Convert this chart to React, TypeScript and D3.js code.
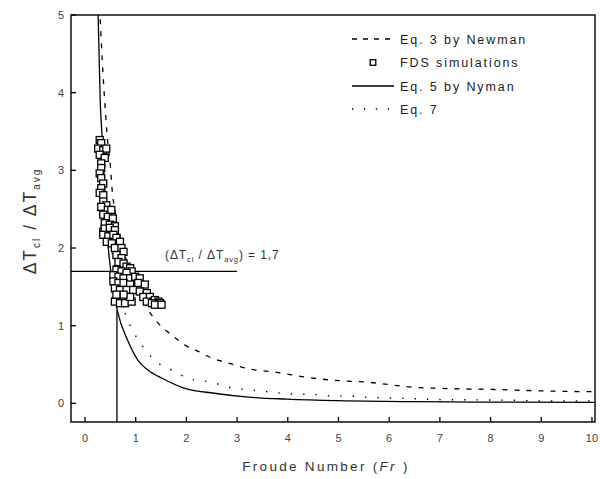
import React, { useEffect, useRef } from 'react';
import * as d3 from 'd3';

const W = 600;
const H = 479;

const xTicks = [0, 1, 2, 3, 4, 5, 6, 7, 8, 9, 10];
const yTicks = [0, 1, 2, 3, 4, 5];

// Eq. 3 by Newman (dashed)
const newmanFr = [0.29, 0.33, 0.36, 0.41, 0.43, 0.51, 0.53, 0.6, 0.75, 1.0, 1.2, 1.46, 1.73, 2.0, 2.28, 2.51, 2.75, 3.26, 3.78, 4.32, 4.86, 5.61, 6.43, 7.18, 8.0, 9.02, 10.05];
const newmanRatio = [5.1, 4.55, 4.19, 3.69, 3.5, 2.98, 2.79, 2.45, 2.0, 1.5, 1.25, 1.02, 0.87, 0.74, 0.655, 0.58, 0.535, 0.44, 0.4, 0.34, 0.3, 0.27, 0.21, 0.19, 0.18, 0.16, 0.15];

// Eq. 5 by Nyman (solid)
const nymanFr = [0.255, 0.3, 0.34, 0.4, 0.46, 0.53, 0.64, 0.85, 1.05, 1.26, 1.53, 1.94, 2.55, 3.23, 3.98, 5.0, 6.5, 7.66, 10.05];
const nymanRatio = [5.1, 3.9, 3.4, 2.6, 2.0, 1.6, 1.19, 0.8, 0.55, 0.42, 0.32, 0.2, 0.13, 0.08, 0.055, 0.035, 0.022, 0.017, 0.012];

// Eq. 7 (dotted)
const eq7Fr = [0.5, 0.62, 0.72, 0.85, 1.12, 1.26, 1.56, 1.74, 2.04, 2.51, 2.82, 3.3, 3.6, 4.08, 4.52, 4.86, 5.34, 5.65, 6.12, 6.9, 7.66, 8.44, 9.22, 10.05];
const eq7Ratio = [2.1, 1.6, 1.3, 1.065, 0.75, 0.63, 0.47, 0.42, 0.32, 0.27, 0.21, 0.17, 0.15, 0.12, 0.115, 0.095, 0.09, 0.075, 0.07, 0.05, 0.045, 0.04, 0.03, 0.03];

// FDS simulations (squares)
const fdsFr = [
  0.29, 0.32, 0.26, 0.36, 0.42, 0.29, 0.39, 0.32, 0.32, 0.29, 0.32, 0.36, 0.32, 0.29, 0.36, 0.36, 0.42, 0.32, 0.45, 0.52,
  0.36, 0.45, 0.55, 0.39, 0.49, 0.59, 0.36, 0.45, 0.55,
  0.39, 0.49, 0.59, 0.36, 0.46, 0.56, 0.62, 0.43, 0.53, 0.69, 0.59, 0.72, 0.76, 0.62, 0.72, 0.66, 0.76, 0.82, 0.89, 0.92,
  0.62, 0.72, 0.82, 0.56, 0.66, 0.76, 0.89, 0.99, 1.08, 0.56, 0.66, 0.76, 0.89, 1.05, 1.18, 0.59, 0.69, 0.82, 0.95, 1.08,
  1.22, 1.15, 1.28, 1.38, 1.45, 0.59, 0.69, 0.79, 0.92, 1.22, 1.32, 1.48, 1.38, 1.51, 0.89, 0.76, 0.62
];
const fdsRatio = [
  3.39, 3.35, 3.28, 3.26, 3.28, 3.2, 3.16, 3.09, 3.03, 2.96, 2.9, 2.83, 2.77, 2.71, 2.68, 2.6, 2.55, 2.53, 2.49, 2.49,
  2.43, 2.4, 2.38, 2.32, 2.3, 2.28, 2.21, 2.21, 2.21,
  2.25, 2.26, 2.23, 2.17, 2.15, 2.17, 2.13, 2.08, 2.06, 2.08, 2.0, 2.0, 1.95, 1.91, 1.87, 1.82, 1.8, 1.76, 1.74, 1.7,
  1.72, 1.7, 1.68, 1.65, 1.63, 1.61, 1.61, 1.63, 1.61, 1.57, 1.55, 1.55, 1.53, 1.55, 1.53, 1.48, 1.46, 1.46, 1.46, 1.44,
  1.42, 1.37, 1.37, 1.33, 1.31, 1.31, 1.29, 1.29, 1.31, 1.31, 1.29, 1.29, 1.27, 1.27, 1.37, 1.4, 1.4
];

const criticalRatio = 1.7;
const criticalFr = 0.63;
const criticalRatioAtFr = 1.2;
const criticalLineEndFr = 3.0;

const legendLabels = ['Eq. 3 by Newman', 'FDS simulations', 'Eq. 5 by Nyman', 'Eq. 7'];

const FONT = '"Liberation Sans", Arial, sans-serif';

export default function App() {
  const ref = useRef<SVGSVGElement>(null);

  useEffect(() => {
    const svg = d3.select(ref.current);
    svg.selectAll('*').remove();

    const x = d3.scaleLinear().domain([-0.276, 10.06]).range([71, 595]);
    const y = d3.scaleLinear().domain([-0.24, 5]).range([422, 15]);
    const [x0, x1] = x.range();
    const [y0, y1] = y.range();

    svg.append('rect').attr('width', W).attr('height', H).attr('fill', '#fff');

    const defs = svg.append('defs');
    defs.append('clipPath').attr('id', 'plotclip')
      .append('rect').attr('x', x0).attr('y', y1).attr('width', x1 - x0).attr('height', y0 - y1);

    const plot = svg.append('g').attr('clip-path', 'url(#plotclip)');

    const line = d3.line<[number, number]>()
      .x(d => x(d[0]))
      .y(d => y(d[1]))
      .curve(d3.curveMonotoneX);

    const zip = (a: number[], b: number[]) => a.map((v, i) => [v, b[i]] as [number, number]);

    // reference lines
    plot.append('line')
      .attr('x1', x0).attr('x2', x(criticalLineEndFr))
      .attr('y1', y(criticalRatio)).attr('y2', y(criticalRatio))
      .attr('stroke', '#000').attr('stroke-width', 1.3);
    plot.append('line')
      .attr('x1', x(criticalFr)).attr('x2', x(criticalFr))
      .attr('y1', y0).attr('y2', y(criticalRatioAtFr))
      .attr('stroke', '#000').attr('stroke-width', 1.3);

    // curves
    plot.append('path').attr('d', line(zip(newmanFr, newmanRatio)))
      .attr('fill', 'none').attr('stroke', '#000').attr('stroke-width', 1.3)
      .attr('stroke-dasharray', '5,7');
    plot.append('path').attr('d', line(zip(nymanFr, nymanRatio)))
      .attr('fill', 'none').attr('stroke', '#000').attr('stroke-width', 1.3);
    plot.append('path').attr('d', line(zip(eq7Fr, eq7Ratio)))
      .attr('fill', 'none').attr('stroke', '#000').attr('stroke-width', 1.4)
      .attr('stroke-dasharray', '1.4,11');

    // FDS squares
    const S = 7;
    plot.selectAll('rect.fds')
      .data(zip(fdsFr, fdsRatio))
      .join('rect')
      .attr('class', 'fds')
      .attr('x', d => x(d[0]) - S / 2)
      .attr('y', d => y(d[1]) - S / 2)
      .attr('width', S).attr('height', S)
      .attr('fill', '#fff').attr('stroke', '#000').attr('stroke-width', 1.3);

    // frame
    svg.append('rect')
      .attr('x', x0).attr('y', y1).attr('width', x1 - x0).attr('height', y0 - y1)
      .attr('fill', 'none').attr('stroke', '#000').attr('stroke-width', 1.4);

    // x ticks
    const gx = svg.append('g');
    xTicks.forEach(t => {
      gx.append('line').attr('x1', x(t)).attr('x2', x(t)).attr('y1', y0).attr('y2', y0 - 5)
        .attr('stroke', '#000').attr('stroke-width', 1.3);
      gx.append('text').attr('x', x(t)).attr('y', 442).attr('text-anchor', 'middle')
        .attr('font-family', FONT).attr('font-size', 11).attr('fill', '#444').text(String(t));
    });
    // y ticks
    const gy = svg.append('g');
    yTicks.forEach(t => {
      gy.append('line').attr('x1', x0).attr('x2', x0 + 5).attr('y1', y(t)).attr('y2', y(t))
        .attr('stroke', '#000').attr('stroke-width', 1.3);
      gy.append('text').attr('x', 64).attr('y', y(t) + 4).attr('text-anchor', 'end')
        .attr('font-family', FONT).attr('font-size', 11).attr('fill', '#444').text(String(t));
    });

    // x label
    const xl = svg.append('text').attr('x', 326).attr('y', 471).attr('text-anchor', 'middle')
      .attr('font-family', FONT).attr('font-size', 13.5).attr('fill', '#333')
      .attr('letter-spacing', 2.3);
    xl.append('tspan').text('Froude Number (');
    xl.append('tspan').attr('font-style', 'italic').text('Fr');
    xl.append('tspan').text(' )');

    // y label
    const yl = svg.append('text')
      .attr('transform', 'translate(36,221) rotate(-90)')
      .attr('text-anchor', 'middle')
      .attr('font-family', FONT).attr('font-size', 17.5).attr('fill', '#333')
      .attr('letter-spacing', 2);
    yl.append('tspan').text('ΔT');
    yl.append('tspan').attr('font-size', 10).attr('dy', 4).text('cl');
    yl.append('tspan').attr('dy', -4).text(' / ΔT');
    yl.append('tspan').attr('font-size', 10).attr('dy', 4).text('avg');

    // annotation
    const an = svg.append('text').attr('x', 165).attr('y', 259)
      .attr('font-family', FONT).attr('font-size', 12).attr('fill', '#333')
      .attr('letter-spacing', 0.9);
    an.append('tspan').text('(ΔT');
    an.append('tspan').attr('font-size', 7.5).attr('dy', 3).text('cl');
    an.append('tspan').attr('dy', -3).text(' / ΔT');
    an.append('tspan').attr('font-size', 7.5).attr('dy', 3).text('avg');
    an.append('tspan').attr('dy', -3).text(`) = ${String(criticalRatio).replace('.', ',')}`);

    // legend
    const lg = svg.append('g');
    const rowY = [39, 62.5, 86, 109];
    const lx0 = 352, lx1 = 394, tx = 400;
    // Newman
    lg.append('line').attr('x1', lx0).attr('x2', lx1).attr('y1', rowY[0]).attr('y2', rowY[0])
      .attr('stroke', '#000').attr('stroke-width', 1.3).attr('stroke-dasharray', '5,6');
    // FDS
    lg.append('rect').attr('x', 373 - 2.8).attr('y', rowY[1] - 2.8).attr('width', 5.6).attr('height', 5.6)
      .attr('fill', '#fff').attr('stroke', '#000').attr('stroke-width', 1.3);
    // Nyman
    lg.append('line').attr('x1', lx0).attr('x2', lx1).attr('y1', rowY[2]).attr('y2', rowY[2])
      .attr('stroke', '#000').attr('stroke-width', 1.3);
    // Eq 7
    lg.append('line').attr('x1', lx0).attr('x2', lx1 + 1).attr('y1', rowY[3]).attr('y2', rowY[3])
      .attr('stroke', '#000').attr('stroke-width', 1.4).attr('stroke-dasharray', '1.4,10.5');
    legendLabels.forEach((lab, i) => {
      lg.append('text').attr('x', tx).attr('y', rowY[i] + 4.5)
        .attr('font-family', FONT).attr('font-size', 12.5).attr('fill', '#222')
        .attr('letter-spacing', 1.9).text(lab);
    });
  }, []);

  return (
    <svg
      ref={ref}
      width={W}
      height={H}
      style={{ position: 'absolute', left: 0, top: 0, display: 'block' }}
    />
  );
}
